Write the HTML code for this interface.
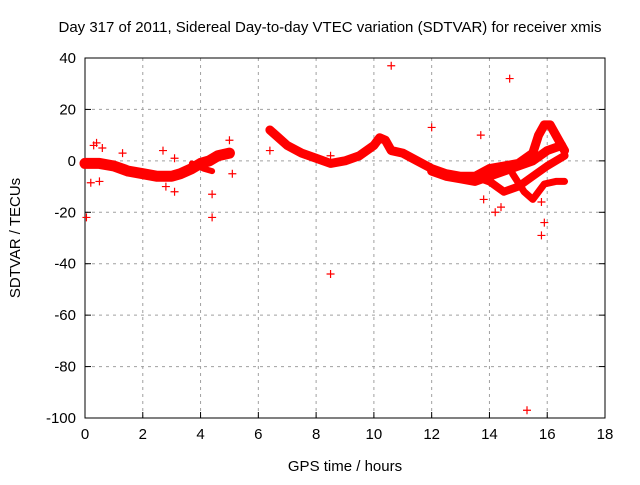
<!DOCTYPE html>
<html><head><meta charset="utf-8"><style>
body{margin:0;background:#fff;}
svg text{font-family:"Liberation Sans",sans-serif;font-size:15px;fill:#000;}
</style></head><body>
<svg id="c" width="640" height="480" viewBox="0 0 640 480"></svg>
<script>
const xTicks=[0,2,4,6,8,10,12,14,16,18];
const yTicks=[40,20,0,-20,-40,-60,-80,-100];
const band1H=[0,0.5,1,1.5,2,2.5,3,3.3,3.7,4,4.3,4.6,5];
const band1V=[-1,-1,-2,-4,-5,-6,-6,-5,-3,-1,0,2,3];
const band2H=[6.4,6.6,7,7.5,8,8.5,9,9.5,10,10.2,10.4,10.6,11,11.5,12,12.5,13,13.5,14,14.5,15,15.5,15.7,15.9,16.1,16.4,16.6];
const band2V=[12,10,6,3,1,-1,0,2,6,9,8,4,3,0,-3,-5,-6,-6,-3,-2,-1,3,10,14,14,8,4];
const band3H=[13.5,14,14.5,15,15.5,16,16.6];
const band3V=[-6,-8,-12,-10,-6,-2,2];
const band4H=[14.8,15.2,15.5,15.9,16.3,16.6];
const band4V=[-5,-12,-15,-9,-8,-8];
const band5H=[3.7,4.1,4.4];
const band5V=[-1,-3,-4];
const band6H=[12,12.5,13,13.5,14,14.5,15,15.5,16,16.5];
const band6V=[-4,-6,-7,-8,-6,-4,-2,0,4,6];
const outH=[0.05,0.3,0.4,0.6,1.3,2.7,3.1,3.1,2.8,4.4,4.4,5,5.1,6.4,8.5,8.5,10.6,12,13.7,14.7,15.8,15.3,15.9,15.8,0.2,0.5,14.2,14.4,13.8];
const outV=[-22,6,7,5,3,4,-12,1,-10,-22,-13,8,-5,4,2,-44,37,13,10,32,-29,-97,-24,-16,-8.5,-8,-20,-18,-15];
const L=85,R=605,T=58,B=418;
const sx=h=>L+(h-0)/18*(R-L);
const sy=v=>T+(40-v)/140*(B-T);
const svg=document.getElementById('c');
const NS='http://www.w3.org/2000/svg';
function mk(t,a,p){const e=document.createElementNS(NS,t);for(const k in a)e.setAttribute(k,a[k]);(p||svg).appendChild(e);return e;}
xTicks.forEach(t=>{if(t>0&&t<18){const g=mk('line',{x1:sx(t),x2:sx(t),y1:T,y2:B,stroke:'#a0a0a0','stroke-dasharray':'3,4'});

}
const tk=mk('line',{x1:sx(t),x2:sx(t),y1:B,y2:B-6,stroke:'#000'});


const tx=mk('text',{x:sx(t),y:B+21,'text-anchor':'middle'});tx.textContent=t;

});
yTicks.forEach(t=>{if(t<40&&t>-100){const g=mk('line',{x1:L,x2:R,y1:sy(t),y2:sy(t),stroke:'#a0a0a0','stroke-dasharray':'3,4'});

}
const tk=mk('line',{x1:L,x2:L+6,y1:sy(t),y2:sy(t),stroke:'#000'});


const tk2=mk('line',{x1:R,x2:R-6,y1:sy(t),y2:sy(t),stroke:'#000'});


const tx=mk('text',{x:L-9,y:sy(t)+5,'text-anchor':'end'});tx.textContent=t;

});
const fr=mk('rect',{x:L,y:T,width:R-L,height:B-T,fill:'none',stroke:'#000'});


[[band1H,band1V,11],[band2H,band2V,9],[band3H,band3V,8],[band4H,band4V,7],[band5H,band5V,6],[band6H,band6V,9]].forEach(([H,V,w])=>{
const p=mk('polyline',{points:H.map((h,i)=>sx(h)+','+sy(V[i])).join(' '),fill:'none',stroke:'#ff0000','stroke-width':w,'stroke-linejoin':'round','stroke-linecap':'round'});

});
outH.forEach((h,i)=>{const x=sx(h),y=sy(outV[i]);
const p=mk('path',{d:`M${x-4},${y}H${x+4}M${x},${y-4}V${y+4}`,stroke:'#ff0000','stroke-width':1.2});

});
const ttl=mk('text',{x:330,y:32,'text-anchor':'middle'});ttl.textContent='Day 317 of 2011, Sidereal Day-to-day VTEC variation (SDTVAR) for receiver xmis';


const xl=mk('text',{x:345,y:471,'text-anchor':'middle'});xl.textContent='GPS time / hours';


const yl=mk('text',{x:0,y:0,'text-anchor':'middle',transform:'translate(20,238) rotate(-90)'});yl.textContent='SDTVAR / TECUs';


</script>
</body></html>
